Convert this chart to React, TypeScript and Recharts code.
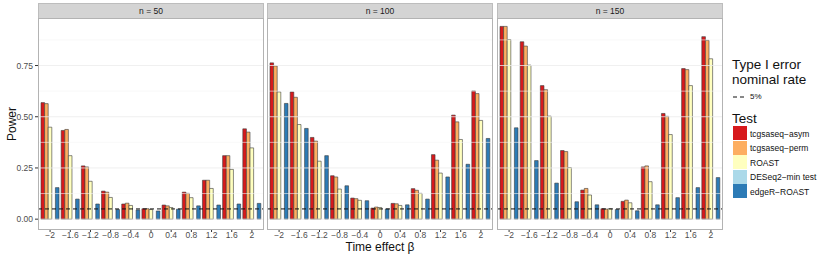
import React from "react";
import { BarChart, Bar, XAxis, YAxis, ReferenceLine } from "recharts";

const BETAS = ["\u22122", "\u22121.6", "\u22121.2", "\u22120.8", "\u22120.4", "0", "0.4", "0.8", "1.2", "1.6", "2"];

// n = 50
const ASYM_50 = [0.569, 0.433, 0.26, 0.137, 0.074, 0.051, 0.069, 0.132, 0.19, 0.31, 0.441];
const PERM_50 = [0.564, 0.438, 0.255, 0.132, 0.078, 0.051, 0.065, 0.126, 0.19, 0.31, 0.425];
const ROAST_50 = [0.449, 0.31, 0.185, 0.106, 0.067, 0.047, 0.057, 0.105, 0.15, 0.243, 0.348];
const DESEQ_50 = [0, 0, 0, 0, 0, 0, 0, 0, 0, 0, 0];
const EDGER_50 = [0.154, 0.098, 0.074, 0.047, 0.045, 0.04, 0.049, 0.065, 0.069, 0.074, 0.077];

// n = 100
const ASYM_100 = [0.763, 0.621, 0.399, 0.212, 0.103, 0.054, 0.077, 0.149, 0.315, 0.508, 0.626];
const PERM_100 = [0.748, 0.595, 0.381, 0.206, 0.1, 0.059, 0.075, 0.141, 0.288, 0.475, 0.613];
const ROAST_100 = [0.621, 0.462, 0.283, 0.147, 0.092, 0.057, 0.067, 0.126, 0.225, 0.389, 0.482];
const DESEQ_100 = [0, 0, 0, 0, 0, 0, 0, 0, 0, 0, 0];
const EDGER_100 = [0.565, 0.443, 0.31, 0.163, 0.09, 0.05, 0.07, 0.098, 0.206, 0.268, 0.394];

// n = 150
const ASYM_150 = [0.941, 0.866, 0.652, 0.335, 0.142, 0.051, 0.087, 0.255, 0.516, 0.735, 0.891];
const PERM_150 = [0.941, 0.845, 0.632, 0.33, 0.15, 0.049, 0.093, 0.26, 0.502, 0.73, 0.873];
const ROAST_150 = [0.877, 0.752, 0.503, 0.252, 0.118, 0.051, 0.08, 0.183, 0.413, 0.652, 0.783];
const DESEQ_150 = [0, 0, 0, 0, 0, 0, 0, 0, 0, 0, 0];
const EDGER_150 = [0.446, 0.286, 0.176, 0.085, 0.07, 0.047, 0.041, 0.07, 0.105, 0.154, 0.203];

const Y_TICKS = [0, 0.25, 0.5, 0.75];
const MINOR = [0.125, 0.375, 0.625, 0.875];
const NOMINAL = 0.05;

const SERIES = [
  { key: "asym", name: "tcgsaseq\u2212asym", color: "#d7191c" },
  { key: "perm", name: "tcgsaseq\u2212perm", color: "#fdae61" },
  { key: "roast", name: "ROAST", color: "#ffffbf" },
  { key: "deseq", name: "DESeq2\u2212min test", color: "#abd9e9" },
  { key: "edger", name: "edgeR\u2212ROAST", color: "#2c7bb6" },
];

function build(asym: number[], perm: number[], roast: number[], deseq: number[], edger: number[]) {
  return BETAS.map((b, i) => ({ beta: b, asym: asym[i], perm: perm[i], roast: roast[i], deseq: deseq[i], edger: edger[i] }));
}

const PANELS = [
  { label: "n = 50", data: build(ASYM_50, PERM_50, ROAST_50, DESEQ_50, EDGER_50) },
  { label: "n = 100", data: build(ASYM_100, PERM_100, ROAST_100, DESEQ_100, EDGER_100) },
  { label: "n = 150", data: build(ASYM_150, PERM_150, ROAST_150, DESEQ_150, EDGER_150) },
];

const FONT = '"Liberation Sans", Arial, sans-serif';
const PLOT_TOP = 18;
const PLOT_H = 211;
const PANEL_X = [38, 267, 497];
const PANEL_W = 226;
const AXIS_W = 38;

function Panel({ idx }: { idx: number }) {
  const p = PANELS[idx];
  const showY = idx === 0;
  const x0 = PANEL_X[idx];
  return (
    <>
      <div
        style={{
          position: "absolute",
          left: x0,
          top: 3,
          width: PANEL_W - 2,
          height: 14,
          background: "#d4d4d4",
          border: "1px solid #bdbdbd",
          fontSize: 8.5,
          color: "#1a1a1a",
          textAlign: "center",
          lineHeight: "14px",
        }}
      >
        {p.label}
      </div>
      <div style={{ position: "absolute", left: showY ? x0 - AXIS_W : x0, top: PLOT_TOP }}>
        <BarChart
          width={showY ? PANEL_W + AXIS_W : PANEL_W}
          height={PLOT_H + 24}
          data={p.data}
          margin={{ top: 0, right: 0, bottom: 0, left: 0 }}
          barSize={3.6}
          barGap={0}
        >
          <XAxis
            dataKey="beta"
            interval={0}
            height={24}
            axisLine={false}
            tickSize={3}
            tickMargin={0}
            tickLine={{ stroke: "#333" }}
            tick={{ fontSize: 8.5, fill: "#4d4d4d", fontFamily: FONT }}
            padding={{ left: 2, right: 2 }}
          />
          <YAxis
            hide={!showY}
            width={AXIS_W}
            type="number"
            domain={[-0.048, 0.982]}
            ticks={Y_TICKS}
            allowDataOverflow
            axisLine={false}
            tickSize={3}
            tickLine={{ stroke: "#333" }}
            tickFormatter={(v: number) => v.toFixed(2)}
            tick={{ fontSize: 8.5, fill: "#4d4d4d", fontFamily: FONT }}
          />
          {MINOR.map((v) => (
            <ReferenceLine key={"m" + v} y={v} stroke="#f5f5f5" strokeWidth={0.6} />
          ))}
          {Y_TICKS.map((v) => (
            <ReferenceLine key={"g" + v} y={v} stroke="#ebebeb" strokeWidth={0.8} />
          ))}
          {SERIES.map((s) => (
            <Bar
              key={s.key}
              dataKey={s.key}
              fill={s.color}
              stroke="#3a3a3a"
              strokeWidth={0.6}
              isAnimationActive={false}
            />
          ))}
          <ReferenceLine y={NOMINAL} stroke="#111" strokeWidth={1} strokeDasharray="4 3" />
        </BarChart>
      </div>
      <div
        style={{
          position: "absolute",
          left: x0,
          top: PLOT_TOP,
          width: PANEL_W - 2,
          height: PLOT_H - 1,
          border: "1px solid #b3b3b3",
          pointerEvents: "none",
        }}
      />
    </>
  );
}

export default function App() {
  return (
    <div
      style={{
        position: "absolute",
        left: 0,
        top: 0,
        width: 830,
        height: 259,
        background: "#fff",
        fontFamily: FONT,
        overflow: "hidden",
      }}
    >
      {PANELS.map((_, i) => (
        <Panel key={i} idx={i} />
      ))}
      <div
        style={{
          position: "absolute",
          left: 0,
          top: 116,
          width: 24,
          height: 16,
          fontSize: 12,
          color: "#111",
          transform: "rotate(-90deg)",
          transformOrigin: "center",
          textAlign: "center",
          lineHeight: "16px",
          whiteSpace: "nowrap",
          display: "flex",
          justifyContent: "center",
        }}
      >
        Power
      </div>
      <div
        style={{
          position: "absolute",
          left: 280,
          top: 240,
          width: 200,
          textAlign: "center",
          fontSize: 12,
          lineHeight: "14px",
          color: "#111",
        }}
      >
        Time effect β
      </div>
      {/* legend */}
      <div style={{ position: "absolute", left: 732, top: 57, fontSize: 13.5, lineHeight: "15px", color: "#111" }}>
        Type I error
        <br />
        nominal rate
      </div>
      <div style={{ position: "absolute", left: 733, top: 92, fontSize: 8, color: "#111", display: "flex", alignItems: "center" }}>
        <svg width={14} height={8}>
          <line x1={0} y1={4} x2={14} y2={4} stroke="#111" strokeWidth={1} strokeDasharray="4 3" />
        </svg>
        <span style={{ marginLeft: 3 }}>5%</span>
      </div>
      <div style={{ position: "absolute", left: 732, top: 111, fontSize: 13.5, color: "#111" }}>Test</div>
      {SERIES.map((s, i) => (
        <div key={s.key} style={{ position: "absolute", left: 733, top: 126 + i * 14.6, display: "flex", alignItems: "center" }}>
          <div style={{ width: 14, height: 14, background: s.color, borderBottom: "1px solid #fff" }} />
          <span style={{ marginLeft: 3, fontSize: 8.5, color: "#111" }}>{s.name}</span>
        </div>
      ))}
    </div>
  );
}
